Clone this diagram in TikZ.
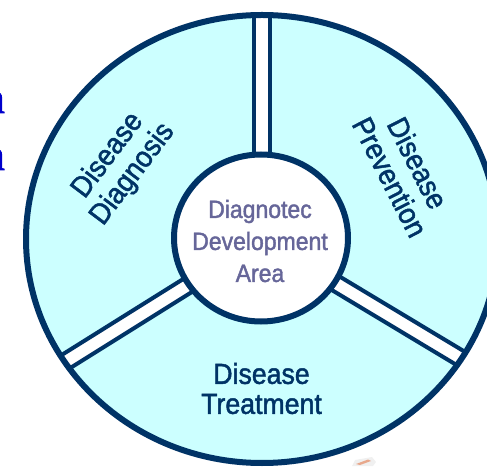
\documentclass[tikz,border=0pt]{standalone}
\usepackage{fontspec}
\setmainfont{Liberation Sans}
\newfontfamily\arialn{Liberation Sans}[FakeStretch=0.92,FakeBold=1.6]
\newfontfamily\serifn{Liberation Serif}[FakeBold=2]
\usetikzlibrary{shapes.geometric}
\definecolor{navy}{HTML}{003366}
\definecolor{cyanfill}{HTML}{CCFFFF}
\definecolor{centertext}{HTML}{666699}
\definecolor{bluetext}{HTML}{0000CC}
\definecolor{smear}{HTML}{E8A88C}
\begin{document}
\begin{tikzpicture}[x=1pt,y=1pt,
  ring/.style={draw=navy, line width=6pt},
  barbox/.style={draw=navy, fill=white, line width=4pt},
  sectorlabel/.style={text=navy, font=\arialn\fontsize{29.5}{31}\selectfont, align=center, inner sep=0pt},
  bottomlabel/.style={text=navy, font=\arialn\fontsize{29}{30}\selectfont, align=center, inner sep=0pt},
  centerlabel/.style={text=centertext, font=\arialn\fontsize{25}{32}\selectfont, align=center, inner sep=0pt},
  core/.style={ellipse, draw=navy, line width=6pt, fill=white, minimum width=174pt, minimum height=167pt, inner sep=0pt},
  cutletter/.style={anchor=base east, inner sep=0pt, text=bluetext, font=\serifn\fontsize{44}{44}\selectfont}]
\useasboundingbox (0,0) rectangle (487,466);
\coordinate (c) at (262,227);
% outer disc
\fill[cyanfill] (c) ellipse [x radius=236, y radius=224];
% separator bars
\begin{scope}
  \clip (c) ellipse [x radius=236, y radius=224];
  \foreach \a in {90,212,-31} {
    \begin{scope}[shift={(262,227)}, rotate=\a]
      \draw[barbox] (0,-7.8) rectangle (300,7.8);
    \end{scope}
  }
\end{scope}
% outer ring
\draw[ring] (c) ellipse [x radius=236, y radius=224];
% centre
\node[core] (hub) at (261,228) {};
\node[centerlabel] (dev) at (260,225) {Diagnotec\\Development\\Area};
% sector labels
\node[sectorlabel, rotate=53] (diag) at (120.5,301) {Disease\\Diagnosis};
\node[sectorlabel, rotate=-63] (prev) at (404,296) {Disease\\Prevention};
\node[bottomlabel] (treat) at (261.5,77.5) {Disease\\Treatment};
% cut-off letters at left edge
\node[cutletter] (n1) at (5,353) {n};
\node[cutletter] (n2) at (5,296) {n};
% small clipped fragment at bottom
\fill[gray!12] (352,0) -- (355,6) -- (372,9) -- (376,4) -- (373,0) -- cycle;
\fill[smear] (356,2) -- (368,6.5) -- (371,5) -- (360,1) -- cycle;
\end{tikzpicture}
\end{document}
